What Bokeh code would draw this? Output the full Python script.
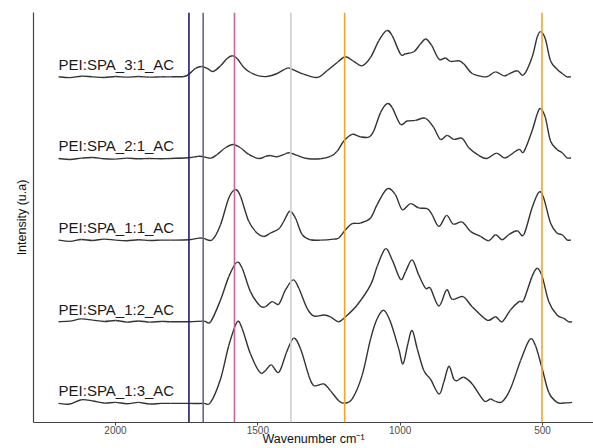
from bokeh.plotting import figure
from bokeh.models import Range1d, FixedTicker, Span
from bokeh.core.properties import value
from bokeh.embed import file_html
from bokeh.resources import INLINE

# ---------------- data ----------------
samples = ["PEI:SPA_1:3_AC", "PEI:SPA_1:2_AC", "PEI:SPA_1:1_AC", "PEI:SPA_2:1_AC", "PEI:SPA_3:1_AC"]
offsets = [0, 1, 2, 3, 4]

left_wn = [2200, 2160, 2120, 2080, 2040, 2000, 1960, 1920, 1880, 1840]

wn_1_3 = left_wn + [1807, 1742, 1690, 1666, 1631, 1602, 1573, 1555, 1526, 1493,
                    1473, 1453, 1426, 1399, 1374, 1350, 1321, 1303, 1268, 1245,
                    1216, 1198, 1169, 1134, 1104, 1081, 1057, 1034, 1005, 990,
                    973, 958, 940, 917, 894, 864, 847, 829, 812, 800,
                    777, 747, 706, 683, 665, 642, 613, 577, 545, 525,
                    501, 478, 449, 425, 396]
int_1_3 = [0.0, -0.008, 0.045, 0.03, 0.004, 0.012, -0.004, 0.012, -0.008, 0.0,
           0.0, 0.0, 0.0, 0.012, 0.299, 0.709, 0.996, 0.914, 0.607, 0.381,
           0.402, 0.472, 0.381, 0.627, 0.799, 0.668, 0.340, 0.217, 0.238, 0.156,
           0.033, 0.004, 0.053, 0.340, 0.791, 1.037, 1.140, 0.996, 0.668, 0.484,
           0.730, 0.894, 0.668, 0.402, 0.299, 0.115, 0.258, 0.455, 0.299, 0.279,
           0.320, 0.238, 0.033, 0.053, 0.025, 0.020, 0.176, 0.525, 0.783, 0.709,
           0.422, 0.135, 0.012, 0.004, 0.012]

wn_1_2 = left_wn + [1807, 1742, 1690, 1666, 1631, 1602, 1575, 1555, 1526, 1493,
                    1473, 1450, 1426, 1403, 1376, 1356, 1327, 1303, 1268, 1245,
                    1216, 1192, 1151, 1104, 1081, 1052, 1028, 999, 981, 958,
                    935, 911, 894, 864, 837, 817, 779, 747, 695, 665,
                    642, 613, 583, 566, 537, 519, 501, 478, 449, 425,
                    408, 396]
int_1_2 = [0.0, 0.008, 0.035, 0.02, 0.004, 0.016, -0.004, 0.01, -0.004, 0.004,
           0.0, 0.0, 0.008, 0.0, 0.267, 0.553, 0.726, 0.656, 0.369, 0.197,
           0.185, 0.246, 0.217, 0.390, 0.513, 0.410, 0.164, 0.070, 0.082, 0.061,
           0.0, 0.061, 0.205, 0.451, 0.677, 0.894, 0.758, 0.520, 0.615, 0.758,
           0.574, 0.410, 0.410, 0.193, 0.390, 0.275, 0.307, 0.184, 0.020, 0.061,
           0.0, 0.143, 0.246, 0.266, 0.553, 0.656, 0.553, 0.246, 0.082, 0.041,
           0.0, 0.0]

wn_1_1 = left_wn + [1807, 1742, 1707, 1690, 1660, 1631, 1602, 1579, 1561, 1532,
                    1503, 1479, 1456, 1426, 1409, 1388, 1368, 1344, 1315, 1280,
                    1233, 1216, 1192, 1169, 1140, 1104, 1081, 1046, 1017, 993,
                    964, 935, 905, 888, 864, 837, 814, 782, 753, 718,
                    689, 665, 642, 619, 589, 566, 537, 513, 496, 472,
                    449, 431, 414, 400]
int_1_1 = [0.0, -0.015, 0.008, -0.004, 0.012, 0.0, -0.008, 0.004, -0.004, 0.0,
           0.0, 0.004, 0.025, 0.021, 0.004, 0.189, 0.517, 0.619, 0.537, 0.230,
           0.086, 0.045, 0.086, 0.139, 0.230, 0.353, 0.271, 0.066, 0.004, 0.0,
           0.012, 0.025, 0.127, 0.201, 0.209, 0.271, 0.435, 0.627, 0.558, 0.373,
           0.447, 0.394, 0.385, 0.312, 0.168, 0.303, 0.197, 0.221, 0.107, 0.045,
           -0.008, 0.066, 0.004, 0.066, 0.115, 0.066, 0.394, 0.586, 0.517, 0.209,
           0.086, 0.066, 0.004, 0.0]

wn_2_1 = left_wn + [1807, 1742, 1713, 1696, 1666, 1643, 1614, 1587, 1561, 1532,
                    1497, 1473, 1456, 1432, 1403, 1388, 1362, 1327, 1280, 1245,
                    1221, 1198, 1169, 1140, 1110, 1093, 1069, 1046, 1028, 999,
                    976, 946, 911, 882, 859, 835, 812, 782, 759, 724,
                    695, 662, 636, 619, 583, 566, 537, 519, 507, 490,
                    472, 449, 431, 414, 400]
int_2_1 = [0.0, -0.012, 0.004, 0.012, -0.004, -0.008, 0.004, -0.004, 0.0, -0.004,
           0.0, 0.008, 0.025, 0.025, 0.004, 0.049, 0.131, 0.172, 0.131, 0.049,
           0.0, 0.025, 0.037, 0.021, 0.057, 0.070, 0.037, 0.0, -0.004, 0.025,
           0.090, 0.213, 0.295, 0.266, 0.262, 0.336, 0.562, 0.672, 0.623, 0.418,
           0.459, 0.467, 0.492, 0.377, 0.234, 0.283, 0.234, 0.246, 0.131, 0.037,
           0.0, 0.066, 0.008, 0.029, 0.111, 0.082, 0.336, 0.541, 0.611, 0.500,
           0.213, 0.111, 0.070, 0.008, 0.008]

wn_3_1 = left_wn + [1807, 1760, 1742, 1719, 1698, 1678, 1657, 1631, 1608, 1590,
                    1573, 1549, 1526, 1497, 1467, 1432, 1397, 1380, 1339, 1292,
                    1257, 1221, 1192, 1163, 1134, 1104, 1075, 1048, 1028, 999,
                    981, 952, 929, 910, 889, 864, 841, 823, 794, 776,
                    747, 706, 689, 665, 636, 619, 589, 566, 537, 519,
                    507, 490, 472, 449, 431, 414, 400]
int_3_1 = [0.0, -0.01, 0.008, 0.0, -0.008, 0.004, -0.004, 0.004, -0.004, 0.0,
           0.0, 0.004, 0.033, 0.103, 0.127, 0.103, 0.066, 0.135, 0.225, 0.258,
           0.225, 0.115, 0.053, 0.012, 0.004, 0.041, 0.107, 0.094, 0.033, -0.008,
           0.074, 0.176, 0.246, 0.189, 0.135, 0.238, 0.443, 0.566, 0.504, 0.279,
           0.283, 0.307, 0.402, 0.463, 0.381, 0.217, 0.230, 0.189, 0.197, 0.156,
           0.041, 0.0, 0.012, 0.061, 0.012, 0.033, 0.074, 0.025, 0.238, 0.484,
           0.553, 0.463, 0.197, 0.094, 0.041, 0.0, 0.0]

marker_wn = [1742, 1692, 1582, 1384, 1195, 502]
marker_colors = ["#231d62", "#6b6396", "#c8649a", "#cfcfcf", "#f7a52a", "#f7a52a"]

x_ticks = [2000, 1500, 1000, 500]
label_lift = 0.156

spectra_wn = [wn_1_3, wn_1_2, wn_1_1, wn_2_1, wn_3_1]
spectra_int = [int_1_3, int_1_2, int_1_1, int_2_1, int_3_1]


def smooth_segments(xs, ys):
    """Catmull-Rom style Bezier segments passing through every read point."""
    n = len(xs)
    out = {k: [] for k in ("x0", "y0", "x1", "y1", "cx0", "cy0", "cx1", "cy1")}
    for i in range(n - 1):
        xa, ya_ = (xs[i - 1], ys[i - 1]) if i > 0 else (xs[i], ys[i])
        xd, yd = (xs[i + 2], ys[i + 2]) if i + 2 < n else (xs[i + 1], ys[i + 1])
        out["x0"].append(xs[i]); out["y0"].append(ys[i])
        out["x1"].append(xs[i + 1]); out["y1"].append(ys[i + 1])
        out["cx0"].append(xs[i] + (xs[i + 1] - xa) / 6.0)
        out["cy0"].append(ys[i] + (ys[i + 1] - ya_) / 6.0)
        out["cx1"].append(xs[i + 1] - (xd - xs[i]) / 6.0)
        out["cy1"].append(ys[i + 1] - (yd - ys[i]) / 6.0)
    return out


# ---------------- figure ----------------
p = figure(width=593, height=448, output_backend="svg", toolbar_location=None,
           x_range=Range1d(2288, 321), y_range=Range1d(-0.234, 4.788),
           min_border_left=33, min_border_right=0, min_border_top=12, min_border_bottom=0)
p.outline_line_color = None
p.xgrid.visible = False
p.ygrid.visible = False
p.background_fill_color = "white"
p.border_fill_color = "white"

for loc, col in zip(marker_wn, marker_colors):
    p.add_layout(Span(location=loc, dimension="height", line_color=col, line_width=1.6))

for wn, it, off in zip(spectra_wn, spectra_int, offsets):
    seg = smooth_segments(wn, [v + off for v in it])
    p.bezier(source=seg, x0="x0", y0="y0", x1="x1", y1="y1",
             cx0="cx0", cy0="cy0", cx1="cx1", cy1="cy1",
             line_color="#333333", line_width=1.4)

p.text(x=[2200] * len(samples), y=[o + label_lift for o in offsets], text=samples,
       text_font=value("Liberation Sans"), text_font_size="15px", text_color="#1a1a1a",
       text_align="left", text_baseline="alphabetic")

xa = p.xaxis[0]
xa.ticker = FixedTicker(ticks=x_ticks)
xa.minor_tick_line_color = None
xa.major_tick_in = 0
xa.major_tick_out = 3
xa.major_tick_line_color = "#444444"
xa.axis_line_color = "#444444"
xa.axis_line_width = 1.2
xa.major_label_text_font = "Liberation Sans"
xa.major_label_text_font_size = "10px"
xa.major_label_text_color = "#4d4d4d"
xa.major_label_standoff = 0
xa.axis_label = "Wavenumber cm\u207b\u00b9"
xa.axis_label_text_font = "Liberation Sans"
xa.axis_label_text_font_size = "12.5px"
xa.axis_label_text_font_style = "normal"
xa.axis_label_text_color = "#111111"
xa.axis_label_standoff = -5

ya = p.yaxis[0]
ya.ticker = FixedTicker(ticks=[])
ya.minor_tick_line_color = None
ya.major_tick_line_color = None
ya.major_label_text_font_size = "0px"
ya.major_label_standoff = 0
ya.axis_line_color = "#444444"
ya.axis_line_width = 1.2
ya.axis_label = "Intensity (u.a)"
ya.axis_label_text_font = "Liberation Sans"
ya.axis_label_text_font_size = "12.5px"
ya.axis_label_text_font_style = "normal"
ya.axis_label_text_color = "#111111"
ya.axis_label_standoff = 5

open("out.html", "w").write(file_html(p, INLINE))
